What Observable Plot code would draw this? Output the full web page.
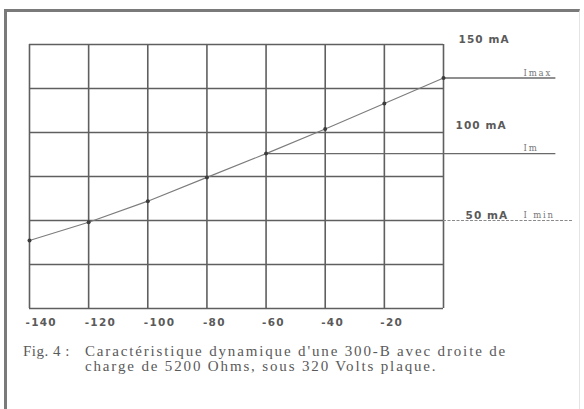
<!DOCTYPE html>
<html>
<head>
<meta charset="utf-8">
<script src="https://cdn.jsdelivr.net/npm/d3@7"></script>
<script src="https://cdn.jsdelivr.net/npm/@observablehq/plot@0.6"></script>
<style>
  html, body { margin: 0; padding: 0; background: #fff; }
  #wrap { position: relative; width: 584px; height: 409px; overflow: hidden; background: #fff; }
  #frame { position: absolute; left: 4px; top: 9px; width: 572px; height: 420px;
           border-left: 3px solid #7a7a7a; border-top: 3px solid #7a7a7a; border-right: 1px solid #e4e4e4; }
  #chart { position: absolute; left: 0; top: 0; }
  #caption { position: absolute; left: 23px; top: 344px; font-family: "Liberation Serif", "Times New Roman", serif;
             font-size: 15px; color: #5a5a5a; line-height: 15px; letter-spacing: 1.85px; }
  #caption .l1 { display: flex; }
  #caption .fig { width: 62px; letter-spacing: 0.5px; }
  #caption .l2 { padding-left: 62px; }
</style>
</head>
<body>
<div id="wrap">
  <div id="frame"></div>
  <div id="chart"></div>
  <div id="caption"></div>
</div>
<script>
// Grid voltage (V) and plate current (mA)
const gridVolts = [-140, -120, -100, -80, -60, -40, -20, 0];
const plateMilliamps = [38.6, 49, 61, 74.5, 88, 102, 116.5, 131];

const xTicks = [-140, -120, -100, -80, -60, -40, -20, 0];
const yTicks = [0, 25, 50, 75, 100, 125, 150];
const xTickLabels = ["-140", "-120", "-100", "-80", "-60", "-40", "-20"];

const currentLabels = ["150 mA", "100 mA", "50 mA"];
const currentValues = [150, 100, 50];

const refNames = ["Imax", "Im", "I min"];
const refValues = [131, 88, 50];
const refStarts = [0, -60, 0];

const captionLine1Head = "Fig. 4 :";
const captionLine1 = "Caractéristique dynamique d'une 300-B avec droite de";
const captionLine2 = "charge de 5200 Ohms, sous 320 Volts plaque.";

const points = gridVolts.map((v, i) => ({v, i: plateMilliamps[i]}));
const tickData = xTickLabels.map((t, i) => ({v: xTicks[i], t}));
const curData = currentLabels.map((t, i) => ({t, y: currentValues[i]}));
const refData = refNames.map((t, i) => ({t, y: refValues[i], from: refStarts[i]}));

const gridColor = "#5f5f5f";

const chart = Plot.plot({
  width: 584,
  height: 340,
  marginLeft: 29,
  marginRight: 141,
  marginTop: 44,
  marginBottom: 32,
  x: {domain: [-140, 0], axis: null},
  y: {domain: [0, 150], axis: null},
  style: {background: "transparent", overflow: "visible"},
  marks: [
    Plot.ruleX(xTicks, {x: d => d, stroke: gridColor, strokeWidth: 1.6}),
    Plot.ruleY(yTicks, {y: d => d, stroke: gridColor, strokeWidth: 1.6}),
    // extension lines to the right
    Plot.ruleY(refData.slice(0, 2), {y: "y", x1: "from", x2: 38, stroke: "#6a6a6a", strokeWidth: 1.4}),
    Plot.ruleY(refData.slice(2), {y: "y", x1: "from", x2: 44, stroke: "#8a8a8a", strokeWidth: 1.2, strokeDasharray: "3,1.5"}),
    // load line
    Plot.line(points, {x: "v", y: "i", stroke: "#7c7c7c", strokeWidth: 1.1}),
    Plot.dot(points, {x: "v", y: "i", r: 2, fill: "#3c3c3c", stroke: "none"}),
    // x tick labels
    Plot.text(tickData, {x: "v", y: 0, text: "t", dy: 14, dx: -4, textAnchor: "start",
      fontSize: 10.5, fontWeight: "bold", fill: "#5a5a5a", fontFamily: "DejaVu Sans"}),
    // current labels
    Plot.text(curData.slice(0, 1), {x: 0, y: "y", text: "t", dx: 15, dy: -5, textAnchor: "start",
      fontSize: 10.5, fontWeight: "bold", fill: "#5a5a5a", fontFamily: "DejaVu Sans"}),
    Plot.text(curData.slice(1, 2), {x: 0, y: "y", text: "t", dx: 12, dy: -7, textAnchor: "start",
      fontSize: 10.5, fontWeight: "bold", fill: "#5a5a5a", fontFamily: "DejaVu Sans"}),
    Plot.text(curData.slice(2), {x: 0, y: "y", text: "t", dx: 22, dy: -5, textAnchor: "start",
      fontSize: 10.5, fontWeight: "bold", fill: "#5a5a5a", fontFamily: "DejaVu Sans"}),
    // reference names
    Plot.text(refData, {x: 0, y: "y", text: "t", dx: 80, dy: -5, textAnchor: "start",
      fontSize: 8.5, fill: "#777", fontFamily: "DejaVu Serif"})
  ]
});
document.getElementById("chart").appendChild(chart);

d3.select(chart).selectAll("text").each(function() {
  const t = this.textContent;
  let ls = null;
  if (xTickLabels.includes(t)) ls = "1.3px";
  else if (currentLabels.includes(t)) ls = "1.1px";
  else if (refNames.includes(t)) ls = "1.8px";
  if (ls) this.setAttribute("letter-spacing", ls);
});

const cap = d3.select("#caption");
const l1 = cap.append("div").attr("class", "l1");
l1.append("span").attr("class", "fig").text(captionLine1Head);
l1.append("span").text(captionLine1);
cap.append("div").attr("class", "l2").text(captionLine2);
</script>
</body>
</html>
